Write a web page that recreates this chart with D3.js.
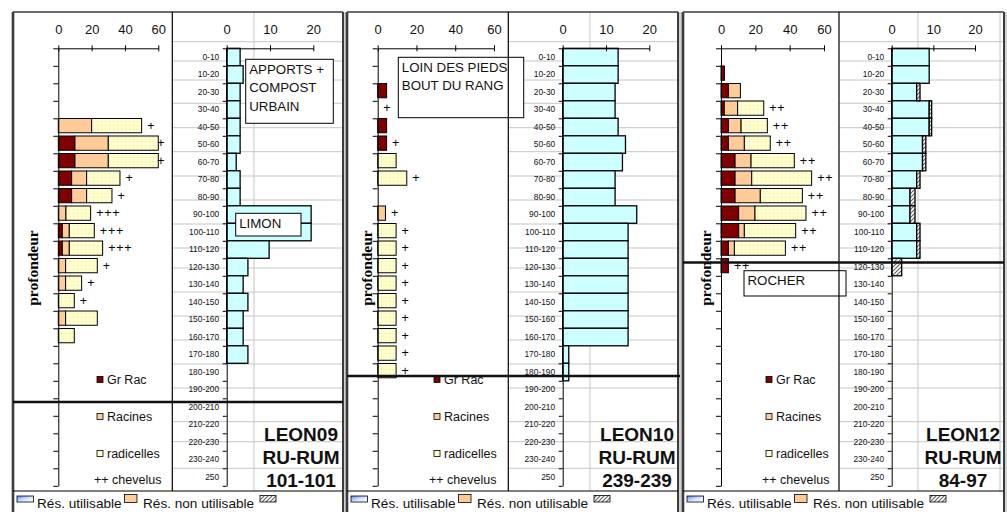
<!DOCTYPE html>
<html><head><meta charset="utf-8">
<script src="https://cdn.jsdelivr.net/npm/d3@7"></script>
<style>
html,body{margin:0;padding:0;background:#fff;}
svg{display:block;font-family:"Liberation Sans",Arial,sans-serif;}
</style></head><body>
<svg id="chart" width="1007" height="512"></svg>
<script>
// Depth classes (cm)
const depths = ["0-10","10-20","20-30","30-40","40-50","50-60","60-70","70-80","80-90","90-100",
  "100-110","110-120","120-130","130-140","140-150","150-160","160-170","170-180","180-190","190-200",
  "200-210","210-220","220-230","230-240","250"];
const rootTicks = [0, 20, 40, 60];
const reserveTicks = [0, 10, 20];

// LEON09 - root counts per class, chevelus notes, water reserve
const grRac09      = [0,0,0,0,0,10,10,8,8,0,2.4,2.4,0,0,0,0,0,0,0,0,0,0,0,0,0];
const racines09    = [0,0,0,0,20,20,20,9,9,4.6,4.2,4.2,4.4,4.4,0,4.4,0,0,0,0,0,0,0,0,0];
const radicelles09 = [0,0,0,0,30,30,30,20,15.2,14.8,15,20,19,9.6,9.6,19,9.6,0,0,0,0,0,0,0,0];
const chevelus09   = ["","","","","+","+","+","+","+","+++","+++","+++","+","+","+","","","","","","","","","",""];
const resUtil09    = [3.1,3.8,3.1,3.1,3.1,3.1,2.2,3.1,3.1,19.5,19.5,9.8,4.9,3.8,4.9,3.8,3.8,4.9,0,0,0,0,0,0,0];
const resNonUtil09 = [0,0,0,0,0,0,0,0,0,0,0,0,0,0,0,0,0,0,0,0,0,0,0,0,0];

// LEON10
const grRac10      = [0,0,4.6,0,4.6,4.6,0,0,0,0,0,0,0,0,0,0,0,0,0,0,0,0,0,0,0];
const racines10    = [0,0,0,0,0,0,0,0,0,4,0,0,0,0,0,0,0,0,0,0,0,0,0,0,0];
const radicelles10 = [0,0,0,0,0,0,9.5,15,0,0,9.5,9.5,9.5,9.5,9.5,9.5,9.5,9.5,9.5,0,0,0,0,0,0];
const chevelus10   = ["","","","+","","+","","+","","+","+","+","+","+","+","+","+","+","+","","","","","",""];
const resUtil10    = [12.8,12.8,12.1,12.1,12.8,14.5,13.8,12.1,12.1,17.1,15.1,15.1,15.1,15.1,15.1,15.1,15.1,1.4,1.4,0,0,0,0,0,0];
const resNonUtil10 = [0,0,0,0,0,0,0,0,0,0,0,0,0,0,0,0,0,0,0,0,0,0,0,0,0];

// LEON12
const grRac12      = [0,2,4.3,1.9,4.3,4.3,8.2,8.2,8.2,10.3,10.3,4.3,4.3,0,0,0,0,0,0,0,0,0,0,0,0];
const racines12    = [0,0,7,7.8,7.4,9.3,9.3,9.7,14.7,9.5,3.3,3.5,0,0,0,0,0,0,0,0,0,0,0,0,0];
const radicelles12 = [0,0,0,15.2,15.3,15.1,25.2,34.9,24.5,29.7,29.9,29.7,0,0,0,0,0,0,0,0,0,0,0,0,0];
const chevelus12   = ["","","","++","++","++","++","++","++","++","++","++","++","","","","","","","","","","","",""];
const resUtil12    = [9,9,6,9,9,7.4,7.4,6,4.4,4.4,6,6,0,0,0,0,0,0,0,0,0,0,0,0,0];
const resNonUtil12 = [0,0,0.8,0.6,0.6,0.8,0.8,0.8,1.2,1.2,0.8,0.8,2.4,0,0,0,0,0,0,0,0,0,0,0,0];

const rootKeys = ["grRac","racines","radicelles"];
const rootNames = ["Gr Rac","Racines","radicelles"];
const chevelusName = "++ chevelus";
const reserveNames = ["Rés. utilisable","Rés. non utilisable"];
const axisTitle = "profondeur";

const sites = [
  {grRac:grRac09, racines:racines09, radicelles:radicelles09, chevelus:chevelus09,
   util:resUtil09, nonUtil:resNonUtil09, title:["LEON09","RU-RUM","101-101"],
   notes:[{lines:["APPORTS +","COMPOST","URBAIN"]},{lines:["LIMON"]}]},
  {grRac:grRac10, racines:racines10, radicelles:radicelles10, chevelus:chevelus10,
   util:resUtil10, nonUtil:resNonUtil10, title:["LEON10","RU-RUM","239-239"],
   notes:[{lines:["LOIN DES PIEDS","BOUT DU RANG"]}]},
  {grRac:grRac12, racines:racines12, radicelles:radicelles12, chevelus:chevelus12,
   util:resUtil12, nonUtil:resNonUtil12, title:["LEON12","RU-RUM","84-97"],
   notes:[{lines:["ROCHER"]}]}
];

// Frame geometry of each sheet block
const layout = [
  {left:13, right:343, divider:172.3, lx0:58.3, lx60:158.3, rx0:226.7, rx20:313.3, cut:402, cutRight:343,
   titleX:33, legX:97, chevX:94, titleCx:301,
   boxes:[{x:245.7,y:59.3,w:87.6,h:64},{x:235.7,y:213.3,w:65.3,h:22.7}]},
  {left:347, right:678, divider:508.3, lx0:377.7, lx60:494, rx0:562.7, rx20:649.3, cut:376, cutRight:680,
   titleX:367.5, legX:434, chevX:429, titleCx:637,
   boxes:[{x:398.3,y:57.3,w:125.4,h:60.4}]},
  {left:683, right:1004, divider:839, lx0:721, lx60:824, rx0:891.7, rx20:975, cut:262.5, cutRight:1004,
   titleX:706, legX:766, chevX:762, titleCx:963,
   boxes:[{x:744,y:270.7,w:102,h:25.3}]}
];

const W = 1007, H = 512, TOP = 12, AXIS_Y = 48.3, ROW = 17.5, LEG_Y = 491;
const colors = {grRac:"#800000", racines:"#FFCC99", radicelles:"url(#dots)", util:"#CCFFFF", nonUtil:"url(#hatch)"};
const frameColor = "#3c3c3c", gridColor = "#c6c6c6";

const svg = d3.select("#chart");
const defs = svg.append("defs");
const dots = defs.append("pattern").attr("id","dots").attr("patternUnits","userSpaceOnUse")
  .attr("width",4).attr("height",4);
dots.append("rect").attr("width",4).attr("height",4).attr("fill","#FFFFCC");
dots.append("rect").attr("x",1).attr("y",1).attr("width",1).attr("height",1).attr("fill","#eedcb8");
const hatch = defs.append("pattern").attr("id","hatch").attr("patternUnits","userSpaceOnUse")
  .attr("width",4).attr("height",4);
hatch.append("rect").attr("width",4).attr("height",4).attr("fill","#ffffff");
hatch.append("path").attr("d","M-1,5 L5,-1 M-1,1 L1,-1 M3,5 L5,3").attr("stroke","#606060").attr("stroke-width",1.1);
const grad = defs.append("linearGradient").attr("id","blueIcon").attr("x1","0").attr("y1","0").attr("x2","1").attr("y2","1");
grad.append("stop").attr("offset","0").attr("stop-color","#5a8cff");
grad.append("stop").attr("offset","0.55").attr("stop-color","#dfe9ff");
grad.append("stop").attr("offset","1").attr("stop-color","#ffffff");

// Spreadsheet cell grid behind the charts
const gridY = [41.7, 61, 80, 103.3, 127.7, 151.7, 176, 200, 224, 248, 268, 292, 316, 340, 364, 388, 421.7, 441.7, 468.3];
const gridX = [254, 590, 918, 1000];
const grid = svg.append("g");
grid.selectAll("line.h").data(gridY).join("line").attr("class","h")
  .attr("x1",0).attr("x2",W).attr("y1",d=>d).attr("y2",d=>d).attr("stroke",gridColor).attr("stroke-width",1);
grid.selectAll("line.v").data(gridX).join("line").attr("class","v")
  .attr("x1",d=>d).attr("x2",d=>d).attr("y1",TOP).attr("y2",H).attr("stroke",gridColor).attr("stroke-width",1);
svg.append("rect").attr("x",0).attr("y",0).attr("width",W).attr("height",TOP).attr("fill","#fff");
svg.append("rect").attr("x",0).attr("y",0).attr("width",12).attr("height",H).attr("fill","#fff");

const y = d3.scaleBand().domain(depths).range([AXIS_Y, AXIS_Y + ROW*depths.length]).padding(0);
const yEdge = d3.scaleLinear().domain([0, depths.length]).range([AXIS_Y, AXIS_Y + ROW*depths.length]);

// grey gutters between sheet blocks
[[343, 347], [678, 683], [1004, 1007]].forEach(([a, b]) => {
  svg.append("rect").attr("x",a).attr("y",TOP).attr("width",b-a).attr("height",H-TOP).attr("fill","#d2d2d2");
});

sites.forEach((s, i) => {
  const p = layout[i];
  const g = svg.append("g");

  // white areas: root chart object and reserve legend strip
  g.append("rect").attr("x",p.left).attr("y",TOP).attr("width",p.divider-p.left).attr("height",LEG_Y-TOP).attr("fill","#fff");
  g.append("rect").attr("x",p.left).attr("y",LEG_Y).attr("width",p.right-p.left).attr("height",H-LEG_Y).attr("fill","#fff");

  // ---------- root chart ----------
  const xL = d3.scaleLinear().domain([0,60]).range([p.lx0, p.lx60]);
  const rows = depths.map((d,k) => ({depth:d, grRac:s.grRac[k], racines:s.racines[k], radicelles:s.radicelles[k], chev:s.chevelus[k]}));
  const stack = d3.stack().keys(rootKeys)(rows);
  const barH = ROW*0.815;
  g.append("g").selectAll("g").data(stack).join("g")
    .attr("fill", d => colors[d.key])
    .selectAll("rect").data(d => d.filter(v => v[1] - v[0] > 0)).join("rect")
      .attr("x", d => xL(d[0])).attr("width", d => xL(d[1]) - xL(d[0]))
      .attr("y", d => y(d.data.depth) + 0.2).attr("height", barH)
      .attr("stroke","#000").attr("stroke-width",1);

  // chevelus marks
  g.append("g").selectAll("text").data(rows.filter(r => r.chev)).join("text")
    .attr("x", r => Math.min(xL(r.grRac + r.racines + r.radicelles) + 5.5, p.lx60 - 1))
    .attr("y", r => y(r.depth) + barH/2 + 4.3)
    .attr("font-size",12.5).attr("letter-spacing",0.8).text(r => r.chev);

  const axL = g.append("g").attr("transform",`translate(0,${AXIS_Y})`)
    .call(d3.axisTop(xL).tickValues(rootTicks).tickSizeInner(3).tickSizeOuter(0).tickPadding(11.5));
  axL.selectAll(".tick line").attr("y1",3).attr("y2",-3);
  axL.selectAll("text").attr("font-size",13).attr("font-family","Liberation Sans, Arial").attr("fill","#111");
  axL.select(".domain").attr("stroke","#000");
  g.append("g").attr("transform",`translate(${p.lx0},0)`)
    .call(d3.axisLeft(yEdge).tickValues(d3.range(0, depths.length + 1)).tickFormat("").tickSize(5).tickSizeOuter(0))
    .select(".domain").attr("stroke","#000");

  // root legend
  const legY = [380, 417, 454];
  rootKeys.forEach((k, j) => {
    g.append("rect").attr("x",p.legX).attr("y",legY[j]-3.5).attr("width",6).attr("height",6)
      .attr("fill", k === "radicelles" ? "#FFFFCC" : colors[k]).attr("stroke","#000").attr("stroke-width",0.8);
    g.append("text").attr("x",p.legX+10).attr("y",legY[j]+4.3).attr("font-size",12.5).attr("fill","#111").text(rootNames[j]);
  });
  g.append("text").attr("x",p.chevX).attr("y",484.3).attr("font-size",12.5).attr("fill","#111").text(chevelusName);

  // depth axis title
  g.append("text").attr("transform",`translate(${p.titleX},268) rotate(-90)`)
    .attr("text-anchor","middle").attr("font-family","Liberation Serif, Times New Roman, serif")
    .attr("font-weight","bold").attr("font-size",15.5).attr("dy","0.3em").text(axisTitle);

  // ---------- water reserve chart ----------
  const xR = d3.scaleLinear().domain([0,20]).range([p.rx0, p.rx20]);
  const rrows = depths.map((d,k) => ({depth:d, util:s.util[k], nonUtil:s.nonUtil[k]}));
  const rstack = d3.stack().keys(["util","nonUtil"])(rrows);
  g.append("g").selectAll("g").data(rstack).join("g")
    .attr("fill", d => colors[d.key])
    .selectAll("rect").data(d => d.filter(v => v[1] - v[0] > 0)).join("rect")
      .attr("x", d => xR(d[0])).attr("width", d => xR(d[1]) - xR(d[0]))
      .attr("y", d => y(d.data.depth)).attr("height", y.bandwidth())
      .attr("stroke","#000").attr("stroke-width",1.3);

  const axR = g.append("g").attr("transform",`translate(0,${AXIS_Y})`)
    .call(d3.axisTop(xR).tickValues(reserveTicks).tickSizeInner(3).tickSizeOuter(0).tickPadding(11.5));
  axR.selectAll(".tick line").attr("y1",3).attr("y2",-3);
  axR.selectAll("text").attr("font-size",13).attr("font-family","Liberation Sans, Arial").attr("fill","#111");
  g.append("g").attr("transform",`translate(${p.rx0},0)`)
    .call(d3.axisLeft(yEdge).tickValues(d3.range(0, depths.length + 1)).tickFormat("").tickSize(4).tickSizeOuter(0));
  const labs = g.append("g").attr("transform",`translate(${p.rx0},0)`)
    .call(d3.axisLeft(y).tickSize(0).tickPadding(7.5));
  labs.select(".domain").remove();
  labs.selectAll("text").attr("font-size",8.4).attr("font-family","Liberation Sans, Arial").attr("fill","#111");

  // site title
  s.title.forEach((t, j) => {
    g.append("text").attr("x",p.titleCx).attr("y",[434,456.7,480][j]).attr("dy","0.36em")
      .attr("text-anchor","middle").attr("font-weight","bold").attr("font-size",19).attr("fill","#111").text(t);
  });

  // note boxes
  s.notes.forEach((n, j) => {
    const b = p.boxes[j];
    g.append("rect").attr("x",b.x).attr("y",b.y).attr("width",b.w).attr("height",b.h)
      .attr("fill","#fff").attr("stroke","#000").attr("stroke-width",1);
    n.lines.forEach((ln, q) => {
      g.append("text").attr("x",b.x+3.5).attr("y",b.y+9.8+q*18.5).attr("dy","0.36em")
        .attr("font-size",13.3).attr("fill","#111").text(ln);
    });
  });

  // reserve legend strip
  const L = p.left;
  g.append("text").attr("x",L+24).attr("y",508.2).attr("font-size",13.6).attr("fill","#111").text(reserveNames[0]);
  g.append("text").attr("x",L+130).attr("y",508.2).attr("font-size",13.6).attr("fill","#111").text(reserveNames[1]);
  g.append("rect").attr("x",L+4).attr("y",496).attr("width",16.5).attr("height",6).attr("fill","url(#blueIcon)").attr("stroke","#000").attr("stroke-width",0.8);
  g.append("rect").attr("x",L+111.5).attr("y",494.5).attr("width",12.5).attr("height",8).attr("fill","#FFCC99").attr("stroke","#000").attr("stroke-width",0.8);
  g.append("rect").attr("x",L+247).attr("y",495.5).attr("width",16).attr("height",6.5).attr("fill","url(#hatch)").attr("stroke","#000").attr("stroke-width",0.8);

  // frame lines
  g.append("line").attr("x1",p.left).attr("x2",p.right).attr("y1",TOP).attr("y2",TOP).attr("stroke",frameColor).attr("stroke-width",1.6);
  g.append("line").attr("x1",p.left).attr("x2",p.left).attr("y1",TOP).attr("y2",H).attr("stroke",frameColor).attr("stroke-width",2.6);
  g.append("line").attr("x1",p.right).attr("x2",p.right).attr("y1",TOP).attr("y2",H).attr("stroke",frameColor).attr("stroke-width",2);
  g.append("line").attr("x1",p.divider).attr("x2",p.divider).attr("y1",TOP).attr("y2",LEG_Y).attr("stroke","#000").attr("stroke-width",1.2);
  g.append("line").attr("x1",p.left).attr("x2",p.right).attr("y1",LEG_Y).attr("y2",LEG_Y).attr("stroke","#000").attr("stroke-width",1.2);
  // limit of the explored profile
  g.append("line").attr("x1",p.left).attr("x2",p.cutRight).attr("y1",p.cut).attr("y2",p.cut).attr("stroke","#111").attr("stroke-width",2.6);
});
</script>
</body></html>
